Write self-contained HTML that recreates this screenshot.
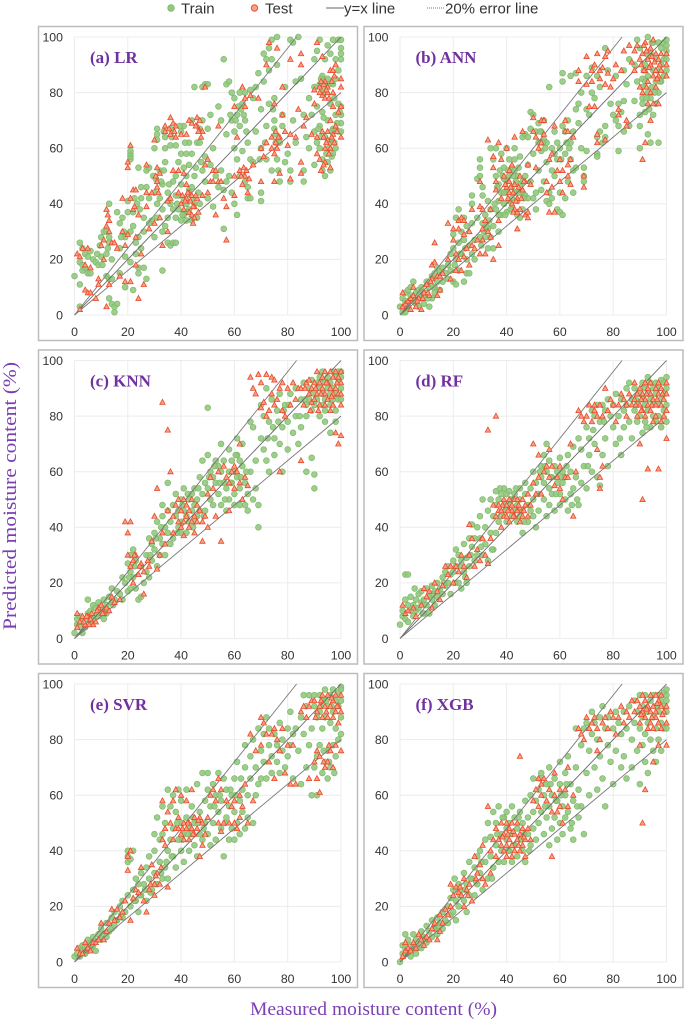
<!DOCTYPE html>
<html><head><meta charset="utf-8"><title>Predicted vs measured moisture content</title>
<style>html,body{margin:0;padding:0;background:#fff}svg{display:block;filter:blur(0.35px)}text{font-family:"Liberation Sans",sans-serif}.s{font-family:"Liberation Serif",serif}</style></head>
<body>
<svg id="chart" width="685" height="1022" viewBox="0 0 685 1022" xmlns="http://www.w3.org/2000/svg">
<g>
<circle cx="171" cy="8" r="3.2" fill="#94c97f" stroke="#7fb86b"/>
<text x="181" y="13.5" font-size="15" fill="#333">Train</text>
<circle cx="254.5" cy="8" r="3.2" fill="#f5a184" stroke="#e8583a"/>
<text x="265" y="13.5" font-size="15" fill="#333">Test</text>
<line x1="326" x2="344" y1="8" y2="8" stroke="#666" stroke-width="1"/>
<text x="344" y="13.5" font-size="15" fill="#333">y=x line</text>
<line x1="427" x2="445" y1="8" y2="8" stroke="#777" stroke-width="1" stroke-dasharray="1 1"/>
<text x="445" y="13.5" font-size="15" fill="#333">20% error line</text>
</g>
<text class="s" transform="translate(16,496) rotate(-90)" text-anchor="middle" font-size="19" fill="#7a3fb5" textLength="268" lengthAdjust="spacingAndGlyphs">Predicted moisture content (%)</text>
<text class="s" x="250" y="1015" font-size="18.5" fill="#7a3fb5" textLength="247" lengthAdjust="spacingAndGlyphs">Measured moisture content (%)</text>
</svg>
<script>
const xTicks = [0, 20, 40, 60, 80, 100];
const yTicks = [0, 20, 40, 60, 80, 100];
const upperErrorFactor = 1.2;
const lowerErrorFactor = 0.8;

const lrTrain = [[0,14],[2,26],[2,19],[2,11],[2,3],[3,18],[3,16],[3,24],[4,22],[4,17],[5,15],[5,21],[6,15],[6,23],[7,20],[8,19],[9,18],[10,28],[10,21],[11,30],[12,30],[12,22],[12,14],[13,26],[13,13],[13,28],[14,20],[14,13],[13,40],[13,6],[14,4],[15,3],[15,1],[16,4],[16,37],[17,24],[17,15],[17,33],[18,35],[19,28],[19,21],[19,10],[20,41],[20,37],[21,30],[21,19],[22,37],[22,9],[22,32],[23,26],[24,15],[24,17],[25,24],[25,42],[26,17],[27,46],[27,13],[21,56],[21,57],[21,58],[21,59],[24,53],[25,46],[26,30],[26,35],[27,52],[28,42],[28,53],[29,34],[30,28],[30,44],[30,60],[31,35],[31,65],[31,67],[31,63],[32,42],[32,52],[33,30],[33,16],[33,47],[34,60],[34,64],[34,32],[34,55],[35,26],[35,44],[36,25],[36,61],[36,67],[37,26],[37,38],[37,48],[38,26],[38,61],[38,35],[39,55],[39,43],[40,34],[40,58],[40,47],[40,66],[41,36],[41,53],[41,68],[42,58],[42,34],[42,50],[43,45],[43,54],[43,62],[44,34],[44,58],[44,70],[45,40],[45,82],[45,50],[46,62],[46,35],[47,67],[47,62],[47,40],[48,82],[48,70],[48,52],[49,83],[49,48],[49,57],[50,83],[50,42],[50,67],[51,54],[51,72],[52,39],[52,60],[53,50],[54,75],[54,46],[55,70],[55,52],[56,92],[56,45],[56,31],[57,83],[57,48],[57,65],[58,84],[58,50],[59,70],[59,44],[59,80],[60,66],[60,40],[60,60],[60,78],[61,72],[61,36],[61,56],[62,80],[62,68],[62,50],[63,76],[63,59],[64,48],[64,70],[64,80],[65,62],[65,46],[65,42],[66,56],[66,81],[66,42],[67,78],[67,55],[68,82],[68,66],[69,87],[70,41],[70,44],[70,74],[70,60],[71,84],[71,94],[72,92],[72,56],[72,68],[73,76],[73,96],[73,88],[74,99],[74,92],[74,52],[75,67],[75,78],[75,70],[76,100],[76,56],[76,90],[77,62],[77,48],[78,72],[78,68],[79,82],[79,55],[80,58],[81,99],[81,52],[81,48],[82,98],[82,70],[83,84],[83,62],[84,100],[85,85],[86,48],[86,52],[86,72],[87,64],[88,78],[88,60],[89,72],[90,66],[90,82],[90,54],[90,92],[91,95],[91,62],[91,75],[92,83],[92,60],[92,99],[92,68],[93,52],[93,86],[93,56],[93,73],[94,50],[94,64],[94,80],[94,92],[95,85],[95,55],[95,70],[95,97],[96,52],[96,62],[96,76],[96,94],[97,83],[97,58],[97,67],[97,99],[98,72],[98,60],[98,85],[98,92],[99,99],[99,88],[99,76],[99,66],[100,99],[100,96],[100,92],[100,72],[100,75],[100,69],[100,66],[100,94],[35,35],[36,40],[38,43],[39,38],[41,42],[43,38],[44,46],[42,40],[38,50],[33,38],[31,40],[28,33],[24,28],[23,22],[92.5,85],[93.5,81],[95.5,83],[97.5,78],[94.5,58],[96.5,66],[92.5,64],[95.5,60],[93.5,71],[97.5,62],[91.5,67],[96.5,57],[98.5,69],[99.5,73],[38.5,40],[40.5,36],[42.5,37],[44.5,42],[46.5,44],[35.5,47],[33.5,52],[45.5,53],[47.5,55],[61.5,75],[62.5,74],[63.5,72],[64.5,66],[60.5,70],[58.5,72],[74.5,74],[75.5,62],[75.5,65],[76.5,52],[69.5,56],[71.5,62],[24.5,38],[23.5,40],[22.5,42],[18.5,30],[17.5,28],[10.5,18],[12.5,24],[9.5,25],[8.5,22],[29.5,50],[30.5,49],[32.5,48],[33.5,66],[36.5,64],[39.5,68],[41.5,62]];
const lrTest = [[1,22],[2,21],[2,2],[3,24],[4,9],[4,18],[5,8],[5,24],[6,17],[6,8],[8,6],[9,11],[9,13],[10,25],[11,27],[11,20],[12,3],[12,32],[12,38],[13,34],[13,30],[13,11],[14,26],[15,26],[16,24],[17,14],[18,42],[18,30],[19,25],[19,12],[20,29],[20,53],[20,55],[21,12],[21,42],[21,61],[22,38],[22,45],[23,28],[23,18],[23,45],[24,6],[24,36],[25,22],[26,11],[27,54],[27,39],[27,44],[28,31],[29,44],[30,33],[30,63],[31,48],[31,53],[31,46],[32,35],[32,51],[33,25],[34,66],[34,68],[35,30],[35,41],[36,71],[36,65],[36,42],[37,69],[37,52],[38,68],[38,64],[39,44],[39,52],[40,65],[40,40],[41,51],[41,38],[42,65],[42,47],[42,42],[43,70],[43,44],[43,37],[44,36],[44,43],[44,69],[45,39],[45,35],[46,42],[46,71],[46,68],[47,66],[47,70],[48,66],[48,43],[49,54],[49,82],[50,56],[50,44],[51,48],[52,52],[52,48],[53,52],[53,36],[54,48],[54,68],[55,48],[56,42],[57,27],[57,39],[60,43],[60,50],[60,75],[61,64],[62,52],[63,47],[64,50],[64,75],[64,78],[63,82],[65,44],[66,79],[67,54],[69,78],[70,48],[70,60],[71,57],[72,62],[72,90],[73,98],[74,64],[74,60],[75,48],[75,58],[75,76],[76,60],[76,96],[77,51],[77,64],[78,72],[78,82],[79,66],[80,61],[81,65],[81,49],[81,92],[83,64],[84,74],[85,90],[85,94],[85,55],[85,51],[86,68],[87,71],[89,65],[90,76],[90,81],[91,98],[91,64],[91,58],[92,56],[92,82],[93,79],[93,66],[93,93],[94,60],[94,55],[94,84],[95,80],[95,63],[95,66],[96,88],[96,53],[96,70],[96,60],[97,75],[97,88],[97,65],[98,68],[98,90],[99,73],[100,85],[100,82],[100,75],[100,64],[95,82],[97,80],[92,80],[94,78],[93.5,83],[94.5,81],[95.5,78],[96.5,84],[97.5,86],[92.5,84],[93.5,64],[95.5,58],[96.5,64],[97.5,62],[94.5,62],[98.5,66],[92.5,52],[93.5,54],[42.5,44],[43.5,41],[44.5,39],[45.5,43],[41.5,41],[40.5,43],[46.5,37],[44.5,33],[30.5,50],[31.5,44],[46.5,66],[45.5,68],[47.5,64],[37.5,66],[35.5,67],[62.5,50],[64.5,52],[65.5,49],[63.5,53],[75.5,62],[75.5,66],[76.5,64],[22.5,39],[12.5,36]];

const annTrain = [[0,3],[1,1],[1,6],[2,5],[2,8],[2,1],[3,9],[3,3],[4,7],[4,10],[5,5],[5,12],[6,4],[6,8],[7,9],[7,3],[8,6],[8,10],[9,7],[9,4],[10,12],[10,8],[11,3],[11,10],[12,14],[12,6],[13,10],[13,8],[13,15],[14,12],[14,17],[15,9],[15,16],[16,17],[16,12],[17,15],[18,18],[18,13],[19,22],[19,16],[20,12],[20,24],[20,29],[21,11],[21,35],[21,20],[22,38],[22,26],[22,16],[23,22],[23,30],[24,12],[24,27],[24,35],[25,15],[25,32],[25,20],[26,25],[26,15],[27,43],[27,33],[27,40],[27,22],[28,27],[28,20],[29,49],[29,35],[30,50],[30,56],[30,53],[30,28],[31,46],[31,43],[31,33],[32,36],[32,28],[33,41],[33,31],[33,24],[34,60],[34,38],[34,28],[35,24],[35,56],[35,32],[36,50],[36,38],[36,60],[37,41],[37,30],[37,47],[38,58],[38,44],[38,36],[39,53],[39,40],[39,49],[40,60],[40,44],[40,37],[41,56],[41,50],[41,41],[42,53],[42,46],[42,38],[43,60],[43,44],[43,56],[44,50],[44,36],[44,41],[45,57],[45,47],[45,35],[46,44],[46,64],[46,38],[47,43],[47,50],[47,65],[48,42],[48,64],[48,54],[49,73],[49,48],[49,67],[50,72],[50,42],[50,58],[51,38],[51,66],[51,44],[52,69],[52,62],[52,52],[53,45],[53,66],[53,59],[54,70],[54,63],[54,48],[55,41],[55,55],[55,62],[56,82],[56,44],[56,40],[57,60],[57,52],[57,42],[58,58],[58,50],[58,66],[59,38],[59,62],[59,56],[60,37],[60,60],[60,44],[61,87],[61,84],[61,68],[61,36],[62,42],[62,66],[62,58],[63,70],[63,48],[64,86],[64,62],[64,56],[65,44],[65,52],[65,66],[66,87],[66,53],[66,74],[67,69],[67,76],[68,80],[68,60],[69,53],[69,48],[69,50],[70,59],[70,74],[70,86],[71,72],[72,89],[72,80],[73,78],[74,58],[74,57],[74,64],[74,86],[75,82],[75,66],[76,62],[77,96],[77,68],[77,64],[78,88],[79,76],[80,72],[81,86],[81,70],[82,59],[82,76],[82,68],[83,73],[84,88],[84,77],[84,66],[85,83],[86,92],[86,68],[88,77],[88,90],[89,99],[89,84],[90,68],[90,60],[90,96],[91,85],[91,76],[91,82],[92,73],[92,90],[93,100],[93,80],[93,65],[93,86],[94,78],[94,62],[94,94],[95,72],[95,88],[95,98],[96,84],[96,76],[96,92],[97,62],[97,80],[97,98],[98,90],[98,84],[98,96],[99,98],[99,86],[99,92],[100,99],[100,97],[100,95],[100,88],[100,92],[90,72],[91,78],[92,84],[43,52],[40,48],[37,36],[46,48],[42,42],[39,44],[36.5,46],[38.5,50],[40.5,52],[42.5,50],[44.5,44],[46.5,42],[41.5,38],[43.5,48],[35.5,40],[37.5,52],[39.5,36],[44.5,53],[31.5,30],[32.5,32],[33.5,34],[30.5,25],[22.5,22],[24.5,24],[20.5,18],[12.5,10],[10.5,6],[8.5,8],[6.5,6],[92.5,78],[93.5,74],[94.5,82],[95.5,80],[96.5,88],[97.5,84],[91.5,88],[92.5,94],[94.5,98],[52.5,66],[53.5,62],[54.5,60],[62.5,62],[63.5,60],[60.5,56]];
const annTest = [[1,8],[1,3],[2,4],[3,5],[4,6],[4,2],[5,10],[5,7],[6,3],[7,6],[8,2],[9,8],[10,11],[11,7],[12,13],[12,18],[13,26],[13,19],[14,7],[14,14],[15,14],[15,9],[16,15],[18,33],[18,20],[19,13],[20,31],[20,27],[21,16],[21,22],[22,34],[22,31],[22,20],[23,35],[23,16],[24,34],[24,29],[24,21],[25,24],[26,30],[26,18],[27,25],[27,38],[28,24],[29,27],[30,48],[30,39],[30,22],[31,38],[31,27],[31,31],[32,22],[32,34],[33,63],[33,30],[34,38],[34,28],[35,20],[35,57],[35,53],[36,45],[36,48],[37,62],[37,25],[37,34],[38,56],[38,42],[39,50],[40,46],[40,60],[41,48],[41,44],[41,52],[42,54],[42,40],[43,64],[43,47],[43,38],[44,42],[44,31],[44,37],[45,50],[45,38],[46,66],[46,45],[47,48],[47,36],[48,54],[48,35],[48,37],[49,47],[50,71],[50,66],[51,53],[51,64],[52,60],[53,70],[53,62],[54,65],[54,70],[55,44],[55,48],[56,56],[56,37],[57,58],[57,46],[58,68],[58,37],[59,52],[60,48],[60,56],[61,52],[61,44],[62,70],[62,66],[63,54],[63,50],[63,66],[64,56],[64,47],[65,64],[67,88],[67,84],[69,46],[69,50],[70,93],[70,83],[71,75],[72,88],[72,84],[73,90],[73,75],[74,65],[74,62],[74,94],[75,88],[75,85],[76,89],[77,93],[77,83],[77,63],[78,95],[78,87],[79,82],[80,85],[81,90],[82,74],[82,72],[83,88],[84,95],[85,70],[85,68],[86,97],[87,91],[88,95],[88,88],[89,97],[90,92],[90,82],[91,56],[91,94],[91,80],[92,62],[92,98],[92,88],[93,76],[93,92],[93,84],[94,70],[94,96],[94,90],[94,80],[95,86],[95,76],[95,99],[96,94],[96,88],[96,82],[97,92],[97,86],[97,76],[98,94],[98,88],[100,94],[100,90],[100,86],[40.5,42],[41.5,46],[42.5,44],[43.5,41],[44.5,46],[45.5,42],[46.5,48],[42.5,37],[39.5,47],[90.5,90],[91.5,88],[92.5,95],[93.5,89],[94.5,93],[95.5,91],[96.5,85],[97.5,90],[91.5,97],[92.5,82],[10.5,8],[11.5,12],[6.5,5],[8.5,6]];

const knnTrain = [[0,2],[1,5],[1,7],[2,4],[2,8],[3,6],[3,2],[4,7],[4,4],[5,9],[5,14],[6,6],[6,10],[7,12],[7,7],[8,11],[9,8],[9,13],[10,10],[11,14],[11,7],[12,9],[12,12],[13,15],[14,13],[14,18],[15,14],[16,17],[17,16],[18,14],[18,22],[19,20],[20,17],[20,27],[21,30],[21,24],[21,18],[22,22],[22,32],[23,28],[23,18],[24,14],[25,26],[25,15],[26,20],[27,30],[27,24],[28,36],[28,22],[29,34],[29,28],[30,38],[30,32],[31,26],[31,42],[32,30],[32,36],[33,44],[33,34],[33,48],[34,40],[34,30],[35,38],[35,46],[35,56],[36,42],[36,34],[37,48],[37,36],[38,44],[38,52],[39,40],[39,46],[40,38],[40,50],[40,42],[41,46],[41,54],[42,44],[42,38],[43,50],[43,42],[44,52],[44,46],[45,48],[45,54],[45,42],[46,44],[46,50],[47,58],[47,46],[48,52],[48,64],[49,56],[49,46],[50,54],[50,66],[50,83],[51,50],[51,60],[52,58],[52,48],[53,56],[53,64],[54,52],[54,62],[55,60],[55,48],[55,70],[56,56],[56,64],[57,54],[57,46],[58,68],[58,60],[58,50],[59,64],[59,56],[60,60],[60,48],[60,52],[61,72],[61,66],[61,58],[62,54],[62,64],[62,48],[63,62],[63,70],[64,56],[64,48],[65,52],[65,46],[66,60],[66,78],[67,50],[67,76],[68,54],[68,64],[69,40],[69,48],[70,72],[70,84],[71,68],[71,80],[72,64],[72,90],[73,60],[73,78],[74,86],[75,72],[75,66],[76,82],[77,70],[77,88],[78,60],[78,76],[79,84],[80,78],[80,68],[81,88],[82,74],[83,80],[83,90],[84,70],[85,86],[85,76],[86,92],[87,84],[87,80],[88,90],[88,86],[89,93],[89,82],[90,88],[90,54],[90,59],[90,84],[91,92],[91,86],[92,94],[92,80],[92,90],[93,88],[93,84],[93,96],[94,92],[94,86],[94,82],[95,90],[95,94],[96,88],[96,84],[96,92],[97,96],[97,90],[97,86],[98,94],[98,88],[98,82],[99,92],[99,96],[99,86],[100,94],[100,90],[100,86],[100,96],[89,65],[87,60],[94,78],[96,74],[98,78],[38.5,38],[40.5,48],[42.5,52],[44.5,40],[46.5,54],[48.5,44],[50.5,58],[52.5,62],[54.5,56],[56.5,50],[58.5,56],[60.5,66],[62.5,58],[64.5,60],[28.5,30],[30.5,36],[32.5,40],[22.5,26],[20.5,22],[12.5,10],[14.5,12],[8.5,9],[6.5,8],[72.5,72],[74.5,76],[76.5,78],[78.5,82],[80.5,84],[84.5,80],[86.5,86]];
const knnTest = [[1,4],[1,9],[2,6],[3,8],[4,5],[5,8],[6,7],[7,5],[8,6],[9,11],[10,12],[11,9],[12,11],[13,10],[14,15],[15,13],[17,14],[19,42],[20,30],[20,38],[21,42],[21,26],[22,28],[22,20],[23,30],[24,23],[25,27],[26,24],[26,16],[28,26],[29,35],[30,44],[31,54],[31,25],[32,30],[33,38],[33,85],[34,34],[35,75],[35,46],[36,60],[37,44],[37,38],[38,48],[39,50],[39,42],[40,46],[40,40],[41,50],[41,42],[41,37],[42,48],[42,44],[43,46],[43,40],[44,50],[44,42],[45,44],[45,38],[46,48],[46,42],[47,46],[48,42],[48,35],[49,44],[50,52],[50,40],[51,58],[52,54],[53,44],[54,60],[55,35],[56,62],[57,58],[58,56],[58,46],[59,60],[60,54],[60,62],[61,60],[62,56],[62,70],[63,50],[64,58],[65,55],[66,94],[67,90],[68,88],[69,95],[70,92],[70,83],[71,85],[72,95],[72,80],[73,82],[74,88],[74,94],[75,93],[75,84],[76,86],[77,90],[77,60],[78,92],[78,82],[79,80],[80,90],[81,84],[82,92],[83,86],[84,90],[85,64],[85,90],[86,84],[87,92],[88,88],[88,93],[89,90],[89,85],[90,92],[90,86],[91,96],[91,88],[92,92],[92,84],[93,94],[93,90],[94,96],[94,88],[94,84],[95,92],[95,86],[96,96],[96,90],[96,82],[97,94],[97,88],[97,84],[98,96],[98,90],[98,74],[99,94],[99,88],[99,70],[100,92],[100,88],[100,84],[100,73],[100,96],[3.5,6],[4.5,8],[5.5,5],[6.5,9],[8.5,10],[10.5,9],[22.5,30],[24.5,26],[27.5,28],[90.5,90],[92.5,88],[94.5,92],[96.5,87],[98.5,92],[88.5,82],[86.5,90],[91.5,82]];

const rfTrain = [[0,5],[1,10],[1,8],[2,23],[2,14],[2,7],[3,12],[3,23],[3,6],[4,10],[4,15],[5,8],[5,12],[6,10],[6,14],[7,16],[7,11],[8,13],[8,17],[9,9],[9,14],[10,18],[10,12],[11,15],[11,9],[12,19],[12,14],[13,17],[13,12],[14,20],[14,15],[15,18],[16,22],[16,16],[17,24],[17,19],[18,26],[18,20],[19,23],[19,16],[20,28],[20,24],[21,32],[21,26],[22,20],[22,30],[23,28],[23,18],[24,34],[24,24],[25,20],[25,29],[26,36],[26,26],[27,33],[27,41],[28,28],[28,36],[29,40],[29,30],[30,36],[30,44],[31,30],[31,50],[32,40],[32,34],[33,28],[33,46],[34,38],[34,50],[35,44],[35,32],[36,48],[36,38],[36,53],[37,42],[37,50],[38,52],[38,44],[39,48],[39,54],[40,46],[40,42],[40,52],[41,48],[41,53],[42,44],[42,50],[43,46],[43,52],[44,48],[44,42],[45,50],[45,54],[45,44],[46,46],[46,38],[47,52],[47,56],[48,48],[48,42],[49,54],[49,46],[50,60],[50,50],[50,44],[51,56],[51,40],[52,52],[52,46],[53,62],[53,58],[54,50],[54,66],[54,56],[55,44],[55,60],[55,70],[56,54],[56,64],[56,48],[57,58],[57,52],[58,62],[58,46],[59,56],[59,60],[60,52],[60,48],[60,65],[61,60],[61,56],[62,50],[62,58],[63,66],[63,46],[64,60],[64,52],[65,69],[65,54],[66,58],[67,72],[67,48],[68,68],[68,56],[69,62],[70,76],[70,54],[71,66],[71,72],[72,82],[72,60],[73,80],[73,70],[74,84],[74,58],[75,78],[75,55],[76,84],[76,66],[77,82],[77,72],[78,86],[78,62],[79,80],[80,84],[80,76],[81,88],[81,70],[82,80],[83,86],[83,66],[84,82],[84,76],[85,90],[85,84],[86,78],[86,92],[87,86],[87,72],[88,82],[88,90],[89,84],[89,78],[90,88],[90,80],[91,86],[91,92],[91,74],[92,84],[92,90],[92,78],[93,88],[93,94],[93,82],[94,86],[94,76],[94,92],[95,84],[95,90],[95,80],[96,88],[96,92],[96,78],[97,84],[97,90],[97,80],[98,86],[98,93],[98,76],[99,88],[99,82],[99,92],[100,90],[100,84],[100,94],[100,78],[5.5,18],[8.5,9],[12.5,16],[16.5,20],[20.5,20],[22.5,26],[24.5,22],[26.5,30],[30.5,33],[34.5,32],[37.5,54],[41.5,50],[43.5,54],[46.5,42],[52.5,60],[54.5,62],[56.5,58],[58.5,52],[60.5,58],[62.5,62],[64.5,48],[66.5,50],[70.5,62],[72.5,75],[76.5,78],[82.5,72],[88.5,86],[92.5,76]];
const rfTest = [[1,12],[2,9],[3,10],[5,11],[6,8],[8,12],[9,18],[10,15],[11,17],[12,11],[13,20],[14,17],[15,14],[16,19],[17,26],[18,23],[19,26],[20,20],[21,26],[22,24],[23,30],[24,26],[25,22],[26,41],[26,30],[27,36],[28,26],[29,32],[30,28],[31,36],[32,30],[33,27],[33,75],[34,36],[35,48],[36,80],[36,44],[37,48],[37,46],[38,46],[38,40],[39,44],[39,50],[40,48],[40,44],[41,50],[41,46],[41,42],[42,46],[42,48],[43,44],[43,50],[44,46],[44,50],[45,47],[45,42],[46,44],[46,50],[47,48],[48,52],[48,44],[49,48],[50,70],[50,56],[51,52],[52,66],[52,58],[53,52],[54,60],[55,62],[56,68],[56,58],[57,62],[58,55],[59,58],[60,62],[60,54],[61,50],[62,58],[63,58],[64,70],[65,44],[66,60],[67,82],[68,80],[69,78],[70,80],[71,84],[72,78],[73,84],[73,82],[74,80],[74,68],[75,84],[75,54],[75,58],[76,62],[76,80],[77,90],[78,82],[79,86],[80,84],[81,78],[82,84],[83,88],[84,86],[85,84],[85,80],[86,88],[87,84],[88,92],[88,86],[89,88],[89,80],[90,84],[90,90],[91,50],[91,88],[91,82],[92,92],[92,86],[92,80],[93,90],[93,84],[94,92],[94,88],[94,82],[95,86],[95,78],[96,90],[96,84],[96,80],[97,88],[97,92],[98,84],[98,90],[98,78],[99,86],[99,80],[100,88],[100,92],[100,82],[97,61],[100,72],[93,61],[90,70],[40.5,46],[42.5,44],[44.5,48],[46.5,46],[38.5,48],[88.5,84],[90.5,86],[92.5,88],[94.5,84],[96.5,86],[98.5,88],[90.5,82]];

const svrTrain = [[0,2],[1,3],[2,5],[2,2],[3,6],[3,4],[4,5],[4,3],[5,8],[5,4],[6,7],[6,5],[7,9],[7,6],[8,4],[9,10],[10,8],[10,12],[11,10],[12,14],[12,9],[13,11],[14,16],[14,12],[15,18],[15,13],[16,15],[17,20],[18,16],[18,22],[19,18],[20,24],[20,38],[20,36],[20,40],[21,20],[21,37],[22,26],[22,40],[23,22],[23,30],[24,18],[24,28],[25,32],[25,24],[26,28],[27,34],[27,22],[28,30],[28,38],[29,26],[30,40],[30,32],[30,46],[31,28],[31,52],[32,36],[32,44],[33,56],[33,30],[33,46],[34,34],[34,50],[35,40],[35,62],[35,30],[36,44],[36,56],[37,38],[37,60],[37,48],[38,34],[38,54],[39,44],[39,62],[40,50],[40,40],[40,58],[41,46],[41,36],[42,52],[42,62],[43,48],[43,40],[44,56],[44,46],[45,50],[45,42],[46,64],[46,38],[47,54],[47,46],[48,68],[48,44],[49,58],[49,50],[50,62],[50,68],[50,46],[51,42],[51,56],[52,64],[52,50],[53,44],[53,60],[54,68],[54,54],[55,48],[55,58],[56,66],[56,38],[57,62],[57,52],[58,44],[58,56],[59,48],[59,60],[60,66],[60,54],[60,44],[61,50],[61,72],[62,58],[62,46],[63,62],[63,54],[64,70],[64,78],[64,48],[65,60],[65,52],[66,74],[66,66],[67,50],[67,80],[68,70],[68,60],[69,84],[69,64],[70,76],[70,66],[71,82],[71,72],[72,88],[72,66],[73,78],[73,84],[74,74],[74,68],[75,82],[76,78],[76,72],[77,86],[77,68],[78,80],[78,76],[79,70],[80,84],[80,74],[81,78],[81,90],[82,82],[82,66],[83,84],[84,76],[85,64],[85,88],[86,96],[86,82],[87,92],[87,70],[88,78],[88,96],[89,60],[89,84],[90,92],[90,70],[90,96],[91,88],[91,74],[91,60],[92,96],[92,78],[92,90],[93,68],[93,94],[93,84],[94,88],[94,98],[94,72],[95,92],[95,76],[95,66],[96,96],[96,86],[96,70],[97,90],[97,98],[97,78],[98,94],[98,74],[98,84],[99,97],[99,92],[99,80],[100,99],[100,94],[100,88],[100,82],[100,98],[22.5,22],[24.5,24],[26.5,26],[28.5,25],[30.5,28],[32.5,32],[34.5,36],[36.5,38],[38.5,50],[40.5,44],[42.5,46],[44.5,52],[46.5,50],[48.5,48],[52.5,56],[54.5,60],[56.5,50],[58.5,62],[60.5,60],[62.5,66],[15.5,15],[17.5,17],[92.5,92],[94.5,94],[96.5,92],[93.5,76],[95.5,72],[97.5,68]];
const svrTest = [[1,5],[2,3],[3,3],[4,7],[5,5],[6,4],[7,7],[8,7],[9,8],[10,14],[11,8],[12,11],[13,14],[14,19],[15,15],[16,19],[17,16],[18,18],[19,22],[20,38],[20,33],[21,15],[21,40],[22,23],[23,26],[24,25],[25,34],[26,22],[27,18],[28,26],[29,35],[30,28],[30,24],[31,32],[32,28],[33,44],[33,58],[34,48],[34,42],[35,54],[35,27],[36,50],[37,58],[37,44],[38,48],[38,62],[39,52],[39,48],[40,46],[40,60],[41,50],[41,44],[42,48],[42,58],[43,50],[43,44],[44,48],[44,62],[45,46],[45,52],[46,48],[47,52],[47,38],[48,50],[48,42],[49,46],[50,52],[51,60],[52,62],[53,58],[54,66],[54,50],[55,62],[55,47],[56,50],[57,58],[58,50],[59,56],[60,58],[60,50],[61,48],[62,52],[62,60],[63,56],[64,64],[65,50],[66,82],[67,58],[68,76],[70,88],[70,78],[71,86],[72,82],[73,72],[74,82],[75,84],[75,66],[76,80],[77,76],[78,84],[79,68],[80,78],[81,64],[82,78],[83,64],[85,90],[86,92],[87,88],[88,92],[88,66],[89,94],[90,94],[90,72],[91,90],[91,76],[92,92],[92,74],[93,88],[93,96],[94,92],[94,70],[95,96],[95,88],[95,72],[96,92],[96,76],[97,94],[97,88],[97,70],[98,96],[98,90],[98,78],[99,92],[99,86],[100,96],[100,90],[100,76],[91,66],[92,61],[28.5,28],[30.5,31],[32.5,34],[40.5,48],[42.5,50],[44.5,46],[46.5,51],[90.5,88],[92.5,94],[94.5,90],[96.5,95],[98.5,92],[93.5,72],[95.5,78]];

const xgbTrain = [[0,0],[1,3],[1,6],[2,5],[2,10],[3,8],[3,3],[4,6],[4,2],[5,10],[5,5],[6,8],[6,3],[7,7],[8,5],[8,11],[9,9],[10,13],[10,7],[11,11],[12,15],[12,9],[13,12],[14,16],[14,10],[15,14],[16,18],[16,12],[17,15],[18,20],[18,14],[19,23],[19,17],[20,18],[20,26],[21,22],[21,15],[22,28],[22,20],[23,26],[24,22],[24,32],[25,18],[25,28],[26,36],[26,24],[27,30],[28,34],[28,24],[29,38],[29,28],[30,32],[30,40],[31,26],[32,36],[32,44],[33,30],[33,50],[34,38],[34,45],[35,54],[35,34],[36,42],[36,50],[37,36],[37,56],[38,46],[38,40],[39,52],[39,36],[40,44],[40,54],[40,48],[41,40],[41,50],[42,46],[42,56],[42,36],[43,42],[43,52],[44,48],[44,38],[45,54],[45,44],[46,40],[46,50],[47,58],[47,36],[48,46],[48,52],[49,60],[49,42],[50,54],[50,66],[50,48],[51,58],[51,44],[52,62],[52,50],[53,68],[53,54],[54,60],[54,46],[55,64],[55,52],[56,70],[56,56],[56,42],[57,60],[57,48],[58,66],[58,52],[59,58],[59,44],[60,64],[60,50],[60,72],[61,56],[61,46],[62,60],[62,68],[62,52],[63,54],[63,74],[64,64],[64,48],[65,58],[65,44],[66,70],[66,84],[67,62],[67,52],[68,78],[68,56],[69,84],[69,46],[70,86],[70,68],[71,76],[71,60],[72,90],[72,82],[73,70],[73,86],[74,80],[74,62],[75,88],[75,74],[76,92],[76,66],[77,84],[77,56],[78,88],[78,78],[79,72],[80,84],[80,64],[81,90],[81,76],[82,86],[83,70],[83,82],[84,90],[84,74],[85,84],[85,66],[86,92],[87,80],[87,70],[88,94],[88,86],[89,90],[89,76],[90,84],[90,96],[90,64],[91,88],[91,78],[91,92],[92,96],[92,82],[92,72],[93,90],[93,86],[93,68],[94,94],[94,80],[95,88],[95,96],[95,76],[96,84],[96,92],[96,72],[97,90],[97,96],[97,80],[98,86],[98,94],[98,76],[99,92],[99,84],[99,97],[100,96],[100,90],[100,84],[100,94],[100,98],[20.5,30],[22.5,24],[24.5,26],[26.5,30],[28.5,29],[30.5,36],[34.5,30],[36.5,46],[38.5,52],[40.5,40],[42.5,42],[44.5,52],[46.5,46],[48.5,40],[52.5,66],[54.5,56],[56.5,64],[58.5,58],[60.5,60],[62.5,64],[64.5,50],[66.5,56],[14.5,13],[12.5,12],[8.5,8],[6.5,5]];
const xgbTest = [[1,2],[2,4],[2,7],[3,5],[4,4],[5,7],[6,5],[7,10],[8,8],[9,6],[10,9],[11,8],[12,12],[13,14],[14,8],[15,11],[15,17],[16,14],[17,19],[18,17],[19,28],[19,20],[20,24],[21,27],[22,25],[23,24],[24,30],[24,20],[25,26],[26,28],[27,22],[28,38],[29,32],[30,35],[31,42],[31,30],[32,28],[33,56],[34,40],[34,32],[35,44],[36,48],[36,38],[37,44],[38,50],[38,42],[39,46],[39,40],[40,50],[40,42],[40,38],[41,48],[41,44],[42,50],[42,42],[42,38],[43,46],[43,40],[44,50],[44,44],[45,46],[45,74],[45,40],[46,48],[46,42],[47,44],[47,38],[48,48],[49,44],[50,58],[51,62],[52,66],[52,56],[53,60],[53,64],[54,66],[55,58],[56,62],[57,54],[57,38],[58,60],[58,68],[59,54],[60,62],[60,56],[61,50],[62,62],[63,70],[63,56],[65,60],[67,84],[68,82],[69,80],[70,88],[71,84],[72,86],[73,88],[74,84],[74,76],[75,80],[76,86],[77,88],[78,84],[79,90],[80,88],[81,82],[82,88],[83,92],[84,86],[85,90],[86,88],[87,94],[88,90],[89,94],[90,92],[90,86],[90,78],[91,50],[91,96],[91,90],[92,88],[92,94],[92,62],[93,92],[93,84],[94,90],[94,96],[94,86],[95,92],[95,84],[95,72],[96,96],[96,88],[96,90],[97,94],[97,86],[97,78],[98,92],[98,96],[98,84],[99,90],[100,92],[100,86],[100,78],[22.5,27],[25.5,24],[28.5,30],[40.5,46],[42.5,47],[44.5,42],[46.5,45],[38.5,45],[90.5,89],[92.5,91],[94.5,88],[96.5,93],[98.5,89]];

const panelNames = ["lr","ann","knn","rf","svr","xgb"];
const panelTitles = ["(a) LR","(b) ANN","(c) KNN","(d) RF","(e) SVR","(f) XGB"];
const trainSeries = [lrTrain,annTrain,knnTrain,rfTrain,svrTrain,xgbTrain];
const testSeries = [lrTest,annTest,knnTest,rfTest,svrTest,xgbTest];

const NS = "http://www.w3.org/2000/svg";
const root = document.getElementById("chart");
const colX0 = [74.5, 400];
const rowY0 = [315, 638.5, 962];
const plotW = 266.5;
const plotH = 278;

function mk(tag, parent, attrs) {
  const el = document.createElementNS(NS, tag);
  for (const k in attrs) el.setAttribute(k, attrs[k]);
  parent.appendChild(el);
  return el;
}

panelNames.forEach(function (name, i) {
  const x0 = colX0[i % 2];
  const y0 = rowY0[Math.floor(i / 2)];
  const sx = function (v) { return x0 + v / 100 * plotW; };
  const sy = function (v) { return y0 - v / 100 * plotH; };
  const g = mk("g", root, {});
  
  
  const frame = mk("rect", g, {x: x0 - 36, y: y0 - 288.5, width: 319, height: 314, fill: "#fff", stroke: "#bcbcbc", "stroke-width": 1.5});
  
  
  xTicks.forEach(function (t) {
    const gl = mk("line", g, {x1: sx(t), x2: sx(t), y1: sy(0), y2: sy(100), stroke: "#ececec", "stroke-width": 1});
    
    
    const lb = mk("text", g, {x: sx(t), y: y0 + 21, "text-anchor": "middle", "font-size": 12.3, fill: "#333"});
    lb.textContent = t;
    
    
  });
  yTicks.forEach(function (t) {
    const gl = mk("line", g, {x1: sx(0), x2: sx(100), y1: sy(t), y2: sy(t), stroke: "#ececec", "stroke-width": 1});
    
    
    const lb = mk("text", g, {x: x0 - 11.5, y: sy(t) + 4.3, "text-anchor": "end", "font-size": 12.3, fill: "#333"});
    lb.textContent = t;
    
    
  });
  const trainGroup = mk("g", g, {});
  
  
  trainSeries[i].forEach(function (p) {
    const c = mk("circle", trainGroup, {cx: sx(p[0]), cy: sy(p[1]), r: 2.9, fill: "#94c97f", "fill-opacity": 0.9, stroke: "#7fb86b", "stroke-width": 0.7});
    
    
  });
  const lines = mk("g", g, {});
  
  
  const identity = mk("line", lines, {x1: sx(0), y1: sy(0), x2: sx(100), y2: sy(100), stroke: "#666", "stroke-width": 0.9});
  
  
  const upper = mk("line", lines, {x1: sx(0), y1: sy(0), x2: sx(100 / upperErrorFactor), y2: sy(100), stroke: "#777", "stroke-width": 0.9});
  
  
  const lower = mk("line", lines, {x1: sx(0), y1: sy(0), x2: sx(100), y2: sy(100 * lowerErrorFactor), stroke: "#777", "stroke-width": 0.9});
  
  
  const testGroup = mk("g", g, {});
  
  
  testSeries[i].forEach(function (p) {
    const px = sx(p[0]);
    const py = sy(p[1]);
    const tri = mk("polygon", testGroup, {points: px + "," + (py - 2.9) + " " + (px + 2.7) + "," + (py + 2.1) + " " + (px - 2.7) + "," + (py + 2.1), fill: "#f7a183", stroke: "#e8492b", "stroke-width": 0.8});
    
    
  });
  const title = mk("text", g, {x: x0 + 15.5, y: y0 - 252, "font-size": 17, "font-weight": "bold", fill: "#7030a0", class: "s"});
  title.textContent = panelTitles[i];
  
  
});
</script>
</body></html>
